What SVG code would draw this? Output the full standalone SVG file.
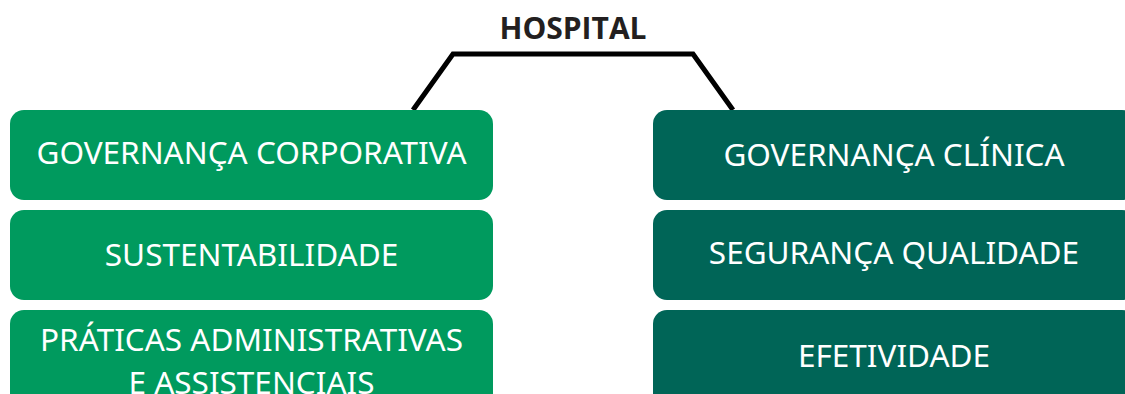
<svg xmlns="http://www.w3.org/2000/svg" width="1125" height="394" viewBox="0 0 1125 394">
<style>
.l{fill:#009A5E}
.r{fill:#006557}
.t{font-family:"Noto Sans","Open Sans",sans-serif;font-size:31.5px;fill:#fff;text-anchor:middle}
.h{font-family:"Open Sans","Noto Sans",sans-serif;font-weight:bold;font-size:30px;fill:#231f20;text-anchor:middle}
</style>
<rect width="1125" height="394" fill="#fff"/>
<g id="connectors">
<polyline points="413,110 453,54 693,54 733,110" fill="none" stroke="#000" stroke-width="5"/>
</g>
<g id="hospital"><text class="h" x="573" y="39">HOSPITAL</text></g>
<g id="gov-corp"><rect class="l" x="10" y="110" width="483" height="90" rx="14"/><text class="t" x="251.5" y="164">GOVERNANÇA CORPORATIVA</text></g>
<g id="sustent"><rect class="l" x="10" y="210" width="483" height="90" rx="14"/><text class="t" x="251.5" y="266">SUSTENTABILIDADE</text></g>
<g id="praticas"><rect class="l" x="10" y="310" width="483" height="100" rx="14"/><text class="t" x="251.5" y="351">PRÁTICAS ADMINISTRATIVAS</text><text class="t" x="251.5" y="394">E ASSISTENCIAIS</text></g>
<g id="gov-clin"><rect class="r" x="653" y="110" width="483" height="90" rx="14"/><text class="t" x="894" y="166">GOVERNANÇA CLÍNICA</text></g>
<g id="seguranca"><rect class="r" x="653" y="210" width="483" height="90" rx="14"/><text class="t" x="894" y="264">SEGURANÇA QUALIDADE</text></g>
<g id="efetividade"><rect class="r" x="653" y="310" width="483" height="100" rx="14"/><text class="t" x="894" y="367">EFETIVIDADE</text></g>
</svg>
